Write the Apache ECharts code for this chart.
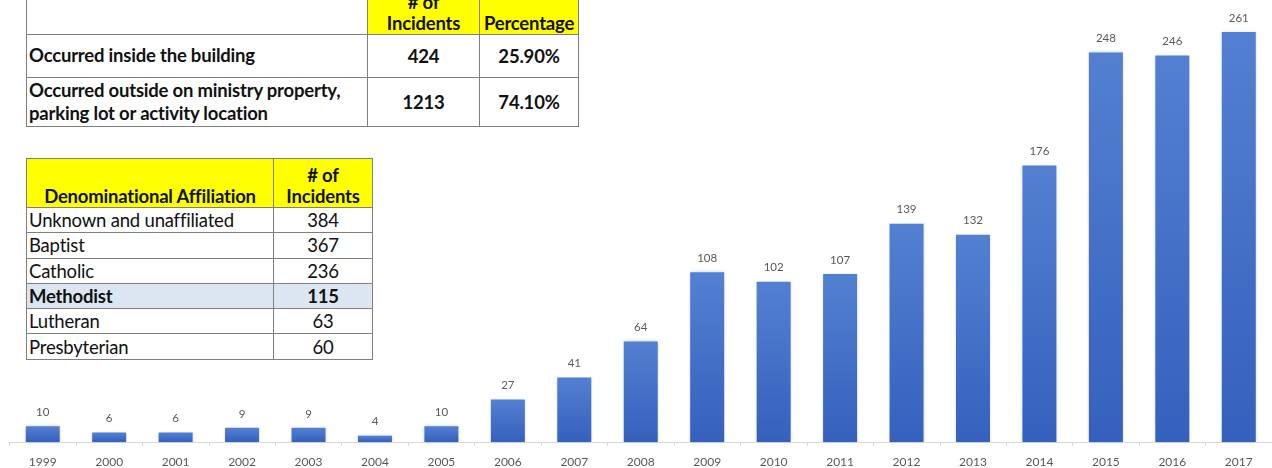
<!DOCTYPE html>
<html>
<head>
<meta charset="utf-8">
<script src="https://cdn.jsdelivr.net/npm/echarts@6/dist/echarts.min.js"></script>
<style>
    html, body {
        margin: 0;
        padding: 0;
        background: #fff;
    }
    .wrap {
        position: relative;
        width: 1272px;
        height: 468px;
        overflow: hidden;
    }
    #chart {
        position: absolute;
        left: 0;
        top: 0;
        width: 1272px;
        height: 468px;
    }
    table {
        position: absolute;
        border-collapse: collapse;
        font-family: Lato, "Open Sans", sans-serif;
        color: #111;
        background: #fff;
    }
    td {
        border: 1.5px solid #7f7f7f;
        padding: 0 2px;
        white-space: nowrap;
    }
    .head td {
        background: #ffff00;
        font-weight: bold;
        text-align: center;
        vertical-align: bottom;
        line-height: 21px;
    }
    #where {
        left: 26px;
        top: -13px;
        font-size: 18.5px;
        font-weight: bold;
        letter-spacing: -0.2px;
    }
    #where td.num {
        text-align: center;
    }
    #denom {
        left: 26px;
        top: 158px;
        font-size: 18.5px;
        letter-spacing: -0.2px;
    }
    #denom td {
        height: 24.3px;
        line-height: 22px;
    }
    #denom .head td {
        height: 48px;
        line-height: 21px;
        font-size: 18.5px;
    }
    #denom td.num {
        text-align: center;
    }
    #denom tr.hl td {
        background: #dce6f2;
        font-weight: bold;
    }
</style>
</head>
<body>
<div class="wrap">
    <div id="chart"></div>
    <table id="where"></table>
    <table id="denom"></table>
</div>
<script>
// bar chart data
const years = ['1999', '2000', '2001', '2002', '2003', '2004', '2005', '2006', '2007', '2008',
    '2009', '2010', '2011', '2012', '2013', '2014', '2015', '2016', '2017'];
const incidents = [10, 6, 6, 9, 9, 4, 10, 27, 41, 64, 108, 102, 107, 139, 132, 176, 248, 246, 261];

// location table
const locHeaders = ['', '# of<br>Incidents', 'Percentage'];
const locNames = ['Occurred inside the building', 'Occurred outside on ministry property,<br>parking lot or activity location'];
const locCounts = ['424', '1213'];
const locPercents = ['25.90%', '74.10%'];

// denomination table
const denomHeaders = ['Denominational Affiliation', '# of<br>Incidents'];
const denomNames = ['Unknown and unaffiliated', 'Baptist', 'Catholic', 'Methodist', 'Lutheran', 'Presbyterian'];
const denomCounts = [384, 367, 236, 115, 63, 60];
const denomHighlight = 'Methodist';

// build tables
let html = '<tr class="head">';
html += '<td style="width:336px;height:46px;background:#fff"></td>';
html += '<td style="width:107px">' + locHeaders[1] + '</td>';
html += '<td style="width:94px">' + locHeaders[2] + '</td></tr>';
locNames.forEach((n, i) => {
    const h = i === 0 ? 41.5 : 48.5;
    html += '<tr><td style="height:' + h + 'px;line-height:23px">' + n + '</td>';
    html += '<td class="num">' + locCounts[i] + '</td>';
    html += '<td class="num">' + locPercents[i] + '</td></tr>';
});
document.getElementById('where').innerHTML = html;

html = '<tr class="head"><td style="width:242px">' + denomHeaders[0] + '</td>';
html += '<td style="width:94px">' + denomHeaders[1] + '</td></tr>';
denomNames.forEach((n, i) => {
    html += '<tr' + (n === denomHighlight ? ' class="hl"' : '') + '><td>' + n + '</td>';
    html += '<td class="num">' + denomCounts[i] + '</td></tr>';
});
document.getElementById('denom').innerHTML = html;

// chart
const chart = echarts.init(document.getElementById('chart'));
const option = {
    animation: false,
    grid: {
        left: 9.5,
        right: -10.5,
        top: 10,
        bottom: 26,
        containLabel: false
    },
    xAxis: {
        type: 'category',
        data: years,
        axisLine: {
            lineStyle: {
                color: '#d9d9d9',
                width: 1
            }
        },
        axisTick: {
            show: true,
            length: 4,
            lineStyle: {
                color: '#d9d9d9'
            }
        },
        axisLabel: {
            color: '#595959',
            fontSize: 12,
            fontFamily: 'Lato, sans-serif',
            margin: 14
        }
    },
    yAxis: {
        type: 'value',
        min: 0,
        max: 275,
        show: false,
        splitLine: { show: false }
    },
    series: [
        {
            type: 'bar',
            data: incidents,
            barWidth: 34,
            itemStyle: {
                color: new echarts.graphic.LinearGradient(0, 0, 0, 1, [
                    { offset: 0, color: '#5480d2' },
                    { offset: 1, color: '#3560bd' }
                ]),
                shadowColor: 'rgba(68,114,196,0.35)',
                shadowBlur: 3
            },
            label: {
                show: true,
                position: 'top',
                distance: 8,
                color: '#595959',
                fontSize: 11.5,
                fontFamily: 'Lato, sans-serif'
            }
        }
    ]
};
chart.setOption(option);
</script>
</body>
</html>
